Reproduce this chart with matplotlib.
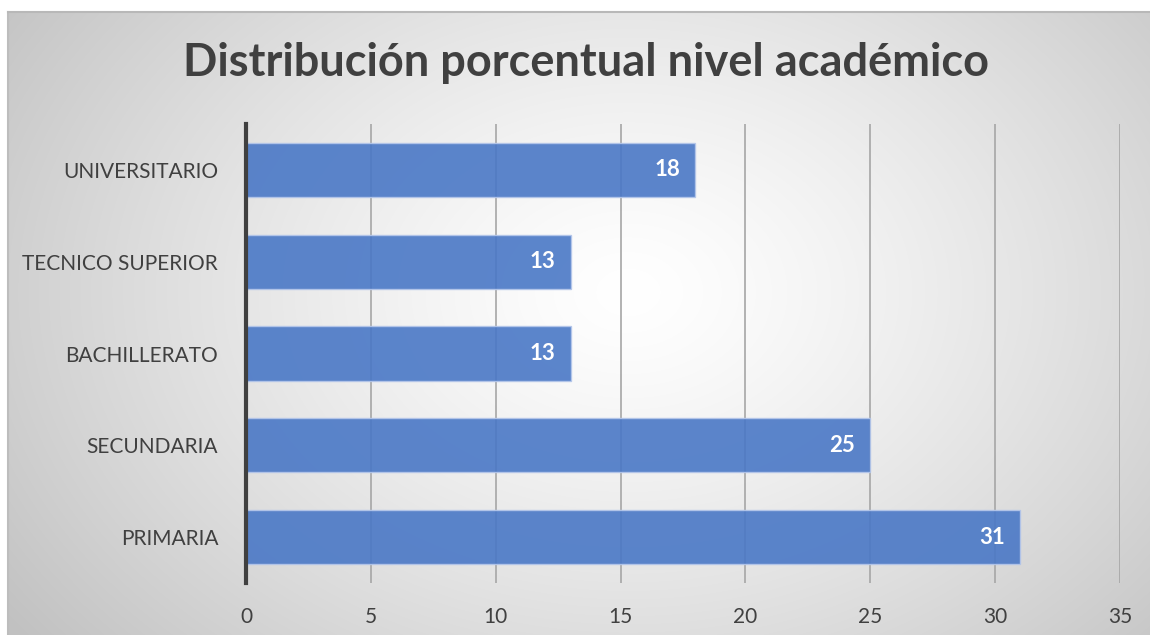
import matplotlib
matplotlib.use("Agg")
import matplotlib.pyplot as plt
import numpy as np

plt.rcParams["font.family"] = ["Lato", "DejaVu Sans"]

# datos
niveles = ["PRIMARIA", "SECUNDARIA", "BACHILLERATO", "TECNICO SUPERIOR", "UNIVERSITARIO"]
porcentajes = [31, 25, 13, 13, 18]
x_ticks = [0, 5, 10, 15, 20, 25, 30, 35]
titulo = "Distribución porcentual nivel académico"

TEXTO = "#404040"

fig = plt.figure(figsize=(11.5, 6.35), dpi=100)

# fondo con degradado radial
bg = fig.add_axes([8 / 1150, 0, 1 - 8 / 1150, 1 - 12 / 635], zorder=0)
h, w = 623, 1142
yy, xx = np.mgrid[0:h, 0:w]
cx, cy = 620, 280
dist = np.sqrt(((xx - cx) / 760) ** 2 + ((yy - cy) / 560) ** 2)
shade = 1 - 0.24 * np.clip(dist, 0, 1) ** 1.3
bg.imshow(np.dstack([shade] * 3), aspect="auto", extent=[0, 1, 0, 1])
bg.set_xlim(0, 1)
bg.set_ylim(0, 1)
bg.axis("off")
bg.plot([0, 0], [0, 1], color="#bdbdbd", lw=1.5, transform=bg.transAxes, clip_on=False)
bg.plot([0, 1], [1, 1], color="#b8b8b8", lw=1.5, transform=bg.transAxes, clip_on=False)

ax = fig.add_axes([246 / 1150, 52 / 635, 874 / 1150, 459 / 635], zorder=1)
ax.set_facecolor("none")

y = np.arange(len(niveles))
ax.barh(y, porcentajes, height=0.59, color="#4a78c6", alpha=0.9,
        edgecolor="#b4c6ea", linewidth=1, zorder=2)

# etiquetas de valor dentro de cada barra
for yi, v in zip(y, porcentajes):
    ax.text(v - 0.6, yi, str(v), color="white", fontsize=16, fontweight="bold",
            ha="right", va="center", zorder=3)

ax.set_xlim(0, 35)
ax.set_ylim(-0.5, len(niveles) - 0.5)
ax.set_xticks(x_ticks)
ax.set_yticks(y)
ax.set_yticklabels(niveles)

for xv in x_ticks[1:]:
    ax.axvline(xv, color="#a6a6a6", lw=1.2, zorder=1)

for s in ["top", "right", "bottom"]:
    ax.spines[s].set_visible(False)
ax.spines["left"].set_color(TEXTO)
ax.spines["left"].set_linewidth(3)
ax.spines["left"].set_zorder(4)

ax.tick_params(axis="x", length=0, pad=17, labelsize=15, labelcolor=TEXTO)
ax.tick_params(axis="y", length=0, pad=20, labelsize=15, labelcolor=TEXTO)

fig.text(586 / 1150, 1 - 63 / 635, titulo, ha="center", va="center",
         fontsize=32.5, fontweight="bold", color=TEXTO)

fig.savefig("out.png", dpi=100)
